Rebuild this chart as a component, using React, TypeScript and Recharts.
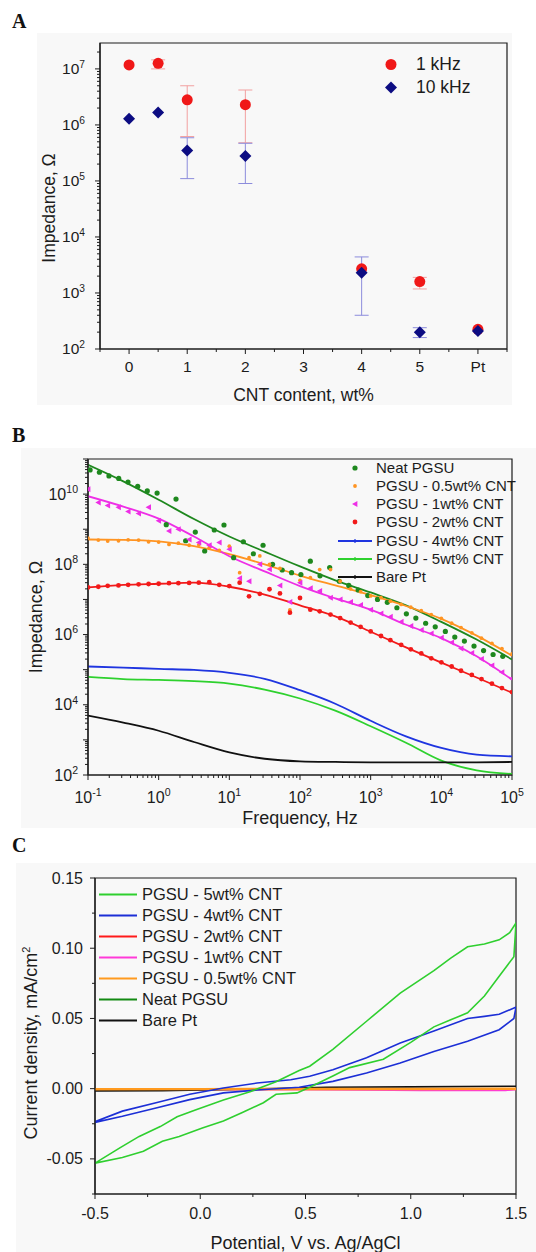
import React from "react";
import {
  ComposedChart,
  LineChart,
  XAxis,
  YAxis,
  Scatter,
  Line,
  ErrorBar,
  ReferenceArea,
  Legend,
} from "recharts";

const FONT = "'Liberation Sans', Arial, Helvetica, sans-serif";
const SERIF = "'Liberation Serif', 'Times New Roman', serif";
const INK = "#1c1c1c";
const BG = "#f8f8f8";

// ---------- A: impedance vs CNT content ----------
const cntX = [0, 0.5, 1, 2, 4, 5, 6];
const cntTicks = [-0.5, 0, 0.5, 1, 1.5, 2, 2.5, 3, 3.5, 4, 4.5, 5, 5.5, 6, 6.5];
const cntTickLabels = ["0", "1", "2", "3", "4", "5", "Pt"];
const imp1kHz = [1.18e7, 1.26e7, 2.8e6, 2.3e6, 2.7e3, 1.6e3, 2.25e2];
const imp1kHzLo = [1.18e7, 1.0e7, 6.2e5, 4.8e5, 2.7e3, 1.18e3, 2.25e2];
const imp1kHzHi = [1.18e7, 1.45e7, 5.0e6, 4.2e6, 2.7e3, 1.9e3, 2.25e2];
const imp10kHz = [1.29e6, 1.66e6, 3.5e5, 2.8e5, 2.3e3, 2.0e2, 2.1e2];
const imp10kHzLo = [1.29e6, 1.66e6, 1.1e5, 9.0e4, 4.0e2, 1.6e2, 2.1e2];
const imp10kHzHi = [1.29e6, 1.66e6, 5.9e5, 4.7e5, 4.4e3, 2.4e2, 2.1e2];

// ---------- B: Bode plots ----------
const fitFreqs = [0.1, 0.316, 1, 3.16, 10, 31.6, 100, 316, 1000, 3160, 10000, 31600, 100000];
const neatFit = [6.8e10, 2.3e10, 6.9e9, 1.95e9, 6.2e8, 2.3e8, 8.7e7, 3.5e7, 1.58e7, 6.8e6, 2.3e6, 7.2e5, 1.95e5];
const cnt05Fit = [5.1e8, 5.0e8, 4.5e8, 3.3e8, 1.95e8, 1.0e8, 4.8e7, 2.5e7, 1.32e7, 6.5e6, 2.8e6, 9.3e5, 2.5e5];
const cnt1Fit = [8.7e9, 4.4e9, 2.0e9, 6.2e8, 1.7e8, 6.3e7, 2.4e7, 1.07e7, 5.1e6, 1.9e6, 7.9e5, 2.4e5, 5.2e4];
const cnt2Fit = [2.2e7, 2.6e7, 2.8e7, 3.0e7, 2.3e7, 1.38e7, 6.8e6, 3.3e6, 1.2e6, 4.3e5, 1.58e5, 6.0e4, 2.2e4];
const cnt4Z = [1.23e5, 1.15e5, 1.05e5, 9.8e4, 8.1e4, 5.5e4, 2.6e4, 1.07e4, 3.5e3, 1.26e3, 590, 380, 340];
const cnt5Z = [6.2e4, 5.4e4, 5.1e4, 4.7e4, 4.0e4, 2.7e4, 1.51e4, 6.8e3, 2.45e3, 830, 257, 135, 107];
const bareZ = [4.9e3, 3.1e3, 1.82e3, 870, 440, 290, 245, 235, 230, 230, 230, 230, 235];

const neatFreqs = [
  0.107, 0.145, 0.198, 0.272, 0.368, 0.505, 0.69, 0.95, 1.28, 1.76, 2.41, 3.3, 4.48, 6.12, 8.4,
  11.5, 15.8, 21.9, 30, 40.9, 56, 76, 103, 140, 192, 263, 360, 490, 665, 910, 1250, 1720, 2350,
  3200, 4360, 6000, 8200, 11400, 15500, 21200, 29000, 39600, 54000, 74000,
];
const neatZ = [
  4.9e10, 4.2e10, 3.3e10, 2.8e10, 2.2e10, 1.66e10, 1.23e10, 1.07e10, 1.35e9, 7.2e9, 4.7e8, 8.3e8,
  2.4e8, 9.5e8, 1.32e9, 1.55e8, 4.4e8, 2.0e8, 3.5e8, 1.0e8, 6.9e7, 5.8e7, 5.1e7, 1.23e8, 4.7e7,
  8.1e7, 3.3e7, 2.5e7, 1.86e7, 1.29e7, 1.0e7, 8.3e6, 5.8e6, 3.9e6, 2.95e6, 2.1e6, 1.66e6, 1.23e6,
  8.5e5, 6.5e5, 4.7e5, 3.5e5, 2.7e5, 2.4e5,
];
const scanFreqs = [
  0.1, 0.14, 0.19, 0.27, 0.37, 0.52, 0.72, 1, 1.4, 1.9, 2.7, 3.7, 5.2, 7.2, 10, 14, 19, 27, 37, 52,
  72, 100, 140, 190, 270, 370, 520, 720, 1000, 1400, 1900, 2700, 3700, 5200, 7200, 10000, 14000,
  19000, 27000, 37000, 52000, 72000, 100000,
];
const cnt05Z = [
  5.6e8, 4.9e8, 4.6e8, 4.7e8, 5.0e8, 4.9e8, 4.4e8, 4.3e8, 3.7e8, 4.0e8, 3.5e8, 3.6e8, 3.0e8, 2.5e8,
  3.3e8, 5.8e7, 1.55e8, 1.74e8, 1.0e8, 7.6e7, 5.0e6, 3.5e7, 4.2e7, 7.1e7, 7.1e7, 3.3e7, 2.0e7,
  1.66e7, 1.26e7, 1.12e7, 8.9e6, 7.2e6, 6.0e6, 4.8e6, 3.7e6, 2.9e6, 2.1e6, 1.58e6, 1.12e6, 7.9e5,
  5.6e5, 4.0e5, 2.8e5,
];
const cnt1Z = [
  1.38e10, 5.8e9, 4.7e9, 4.2e9, 3.2e9, 2.8e9, 4.2e9, 1.74e9, 8.9e8, 1.0e9, 5.1e8, 4.2e8, 3.5e8,
  4.2e8, 2.7e8, 4.0e7, 3.3e7, 1.0e8, 7.2e7, 2.5e7, 8.5e6, 3.0e7, 2.1e7, 1.74e7, 1.12e7, 1.0e7,
  8.5e6, 6.9e6, 5.1e6, 4.0e6, 3.2e6, 2.3e6, 1.74e6, 1.35e6, 1.07e6, 8.1e5, 5.9e5, 4.0e5, 3.0e5,
  2.0e5, 1.32e5, 8.5e4, 5.6e4,
];
const cnt2Z = [
  2.2e7, 2.3e7, 2.45e7, 2.5e7, 2.6e7, 2.7e7, 2.75e7, 2.8e7, 2.9e7, 2.9e7, 2.95e7, 3.0e7, 3.1e7,
  2.6e7, 2.4e7, 3.0e7, 1.23e7, 1.45e7, 1.95e7, 1.48e7, 4.2e6, 1.1e7, 5.1e6, 4.6e6, 3.7e6, 2.95e6,
  2.2e6, 1.66e6, 1.23e6, 9.1e5, 6.9e5, 5.1e5, 3.8e5, 2.9e5, 2.1e5, 1.62e5, 1.23e5, 9.3e4, 7.1e4,
  5.4e4, 4.0e4, 3.0e4, 2.3e4,
];

// ---------- C: cyclic voltammetry ----------
const cv5V = [
  -0.5, -0.38, -0.29, -0.19, -0.11, -0.02, 0.11, 0.24, 0.36, 0.47, 0.52, 0.63, 0.79, 0.95, 1.11,
  1.19, 1.27, 1.35, 1.42, 1.47, 1.5, 1.49, 1.42, 1.35, 1.27, 1.19, 1.11, 1.0, 0.87, 0.71, 0.63,
  0.52, 0.46, 0.36, 0.3, 0.2, 0.11, 0.01, -0.1, -0.18, -0.27, -0.37, -0.5,
];
const cv5I = [
  -0.053, -0.042, -0.034, -0.027, -0.02, -0.015, -0.008, -0.002, 0.005, 0.013, 0.016, 0.028, 0.048,
  0.068, 0.084, 0.093, 0.101, 0.103, 0.106, 0.111, 0.118, 0.094, 0.08, 0.066, 0.054, 0.049, 0.044,
  0.033, 0.021, 0.015, 0.009, 0.001, -0.003, -0.004, -0.01, -0.017, -0.023, -0.028, -0.034,
  -0.0375, -0.0446, -0.049, -0.053,
];
const cv4V = [
  -0.5, -0.37, -0.21, -0.05, 0.11, 0.27, 0.43, 0.52, 0.63, 0.79, 0.95, 1.11, 1.27, 1.35, 1.42, 1.5,
  1.49, 1.42, 1.27, 1.11, 0.95, 0.79, 0.63, 0.47, 0.27, 0.11, -0.05, -0.21, -0.37, -0.5,
];
const cv4I = [
  -0.0235, -0.016, -0.01, -0.004, 0.0005, 0.004, 0.0064, 0.0088, 0.0135, 0.022, 0.0325, 0.041,
  0.05, 0.0515, 0.053, 0.058, 0.05, 0.042, 0.0337, 0.0265, 0.0182, 0.0111, 0.0052, 0.001, -0.001,
  -0.003, -0.0078, -0.0137, -0.0197, -0.024,
];
const cv2V = [-0.5, 0.5, 1.5];
const cv2I = [-0.0006, -0.0005, -0.0005];
const cv1V = [-0.5, 0.5, 1.05, 1.45, 1.5];
const cv1I = [-0.0005, -0.0006, -0.0012, -0.0012, -0.0006];
const cv05V = [-0.5, 0, 0.5, 1.0, 1.5];
const cv05I = [-0.0004, -0.0003, -0.0002, -0.0002, -0.0001];
const cvNeatV = [-0.5, 0.5, 1.5];
const cvNeatI = [-0.0003, -0.0003, -0.0002];
const cvPtV = [-0.5, -0.18, 0.2, 0.6, 1.0, 1.5];
const cvPtI = [-0.0016, -0.0015, -0.0004, 0.001, 0.0013, 0.0017];

// ---------- helpers ----------
function logTicks(fromExp: number, toExp: number, max: number) {
  const out: number[] = [];
  for (let e = fromExp; e <= toExp; e++) {
    for (let m = 1; m <= 9; m++) {
      const v = m * Math.pow(10, e);
      if (v <= max * 1.0001) out.push(v);
    }
  }
  return out;
}
const isDecade = (v: number) => Math.abs(Math.log10(v) - Math.round(Math.log10(v))) < 1e-6;
const expOf = (v: number) => Math.round(Math.log10(v));

const pow10 = (e: number, size: number) => (
  <>
    10
    <tspan dy={-size * 0.42} fontSize={size * 0.66}>
      {e}
    </tspan>
  </>
);

type TickCfg = {
  side: "left" | "bottom";
  isMajor: (v: number) => boolean;
  label: (v: number) => React.ReactNode | null;
  majorLen: number;
  minorLen: number;
  gap: number;
  size: number;
};
const makeTick = (c: TickCfg) => (p: any) => {
  const { x, y, payload } = p;
  const v = payload.value as number;
  const major = c.isMajor(v);
  const len = major ? c.majorLen : c.minorLen;
  const lab = major ? c.label(v) : null;
  if (c.side === "left") {
    return (
      <g>
        <line x1={x} y1={y} x2={x - len} y2={y} stroke={INK} strokeWidth={1} />
        {lab != null && (
          <text x={x - c.gap} y={y + c.size * 0.35} textAnchor="end" fontSize={c.size} fontFamily={FONT} fill={INK}>
            {lab}
          </text>
        )}
      </g>
    );
  }
  return (
    <g>
      <line x1={x} y1={y} x2={x} y2={y + len} stroke={INK} strokeWidth={1} />
      {lab != null && (
        <text x={x} y={y + c.gap + c.size * 0.35} textAnchor="middle" fontSize={c.size} fontFamily={FONT} fill={INK}>
          {lab}
        </text>
      )}
    </g>
  );
};

const vTitle = (x: number, y: number, size: number, body: React.ReactNode) => () => (
  <text x={x} y={y} transform={`rotate(-90 ${x} ${y})`} textAnchor="middle" dy={size * 0.35} fontSize={size} fontFamily={FONT} fill={INK}>
    {body}
  </text>
);
const hTitle = (x: number, y: number, size: number, body: React.ReactNode) => () => (
  <text x={x} y={y} textAnchor="middle" dy={size * 0.35} fontSize={size} fontFamily={FONT} fill={INK}>
    {body}
  </text>
);

const legendRow = (key: string, sym: React.ReactNode, label: string, h: number, swW: number, gap: number) => (
  <div key={key} style={{ display: "flex", alignItems: "center", height: h }}>
    <svg width={swW} height={h} style={{ display: "block", flex: "none" }}>
      {sym}
    </svg>
    <span style={{ marginLeft: gap, whiteSpace: "nowrap", lineHeight: `${h}px` }}>{label}</span>
  </div>
);

const axisLine = { stroke: INK, strokeWidth: 1.2 };

// ---------- panel A ----------
const RED = "#f01818";
const NAVY = "#0c0c82";
const dotShape = (r: number, fill: string) => (p: any) => <circle cx={p.cx} cy={p.cy} r={r} fill={fill} />;
const diamondShape = (s: number, fill: string) => (p: any) => (
  <path d={`M${p.cx},${p.cy - s}L${p.cx + s},${p.cy}L${p.cx},${p.cy + s}L${p.cx - s},${p.cy}Z`} fill={fill} />
);
const leftTriShape = (s: number, fill: string) => (p: any) => (
  <path d={`M${p.cx - s},${p.cy}L${p.cx + s * 0.8},${p.cy - s}L${p.cx + s * 0.8},${p.cy + s}Z`} fill={fill} />
);

// error as [below, above]; points measured without a visible bar get none
const errOf = (v: number, lo: number, hi: number) => (lo === v && hi === v ? null : [v - lo, hi - v]);

function PanelA() {
  const red = cntX.map((x, i) => ({ x, z: imp1kHz[i], err: errOf(imp1kHz[i], imp1kHzLo[i], imp1kHzHi[i]) }));
  const blue = cntX.map((x, i) => ({ x, z: imp10kHz[i], err: errOf(imp10kHz[i], imp10kHzLo[i], imp10kHzHi[i]) }));
  const yTicks = logTicks(2, 7, 2.9e7);
  return (
    <ComposedChart width={475} height={372} margin={{ top: 10, right: 5, bottom: 0, left: 0 }}>
      <XAxis
        type="number"
        dataKey="x"
        domain={[-0.5, 6.5]}
        allowDataOverflow
        ticks={cntTicks}
        interval={0}
        tickSize={0}
        tickMargin={0}
        tickLine={false}
        axisLine={axisLine}
        height={56}
        tick={makeTick({
          side: "bottom",
          isMajor: (v) => Number.isInteger(v),
          label: (v) => cntTickLabels[v],
          majorLen: 5,
          minorLen: 3,
          gap: 18,
          size: 15.5,
        })}
        label={hTitle(266.5, 362, 17.5, "CNT content, wt%")}
      />
      <YAxis
        type="number"
        dataKey="z"
        scale="log"
        domain={[100, 2.9e7]}
        allowDataOverflow
        ticks={yTicks}
        interval={0}
        tickSize={0}
        tickMargin={0}
        tickLine={false}
        axisLine={axisLine}
        width={63}
        tick={makeTick({
          side: "left",
          isMajor: isDecade,
          label: (v) => pow10(expOf(v), 15.5),
          majorLen: 5,
          minorLen: 3,
          gap: 15,
          size: 15.5,
        })}
        label={vTitle(12, 175, 17.5, "Impedance, Ω")}
      />
      <ReferenceArea x1={-0.5} x2={6.5} y1={100} y2={2.9e7} fill="none" stroke={INK} strokeWidth={1.2} />
      <Scatter data={red} shape={dotShape(5.5, RED)} isAnimationActive={false}>
        <ErrorBar dataKey="err" direction="y" width={7} stroke="#f2a0a0" strokeWidth={1} />
      </Scatter>
      <Scatter data={blue} shape={diamondShape(6, NAVY)} isAnimationActive={false}>
        <ErrorBar dataKey="err" direction="y" width={7} stroke="#8c8cdc" strokeWidth={1} />
      </Scatter>
      <Legend
        layout="vertical"
        align="center"
        verticalAlign="middle"
        wrapperStyle={{ left: 343, top: 20, width: "auto" }}
        content={() => (
          <div style={{ fontFamily: FONT, fontSize: 17.5, color: INK }}>
            {legendRow("a1", <circle cx={11} cy={11.5} r={5.5} fill={RED} />, "1 kHz", 23, 22, 14)}
            {legendRow("a2", <path d="M11,5.5L17,11.5L11,17.5L5,11.5Z" fill={NAVY} />, "10 kHz", 23, 22, 14)}
          </div>
        )}
      />
    </ComposedChart>
  );
}

// ---------- panel B ----------
const C_NEAT = "#1e881e";
const C_05 = "#ff9422";
const C_1 = "#ee2fe6";
const C_2 = "#f21a1a";
const C_4 = "#1f35e0";
const C_5 = "#2ed12e";
const C_PT = "#111111";

function PanelB() {
  const pts = (fs: number[], zs: number[]) => fs.map((f, i) => ({ f, z: zs[i] }));
  const xTicks = logTicks(-1, 5, 1e5);
  const yTicks = logTicks(2, 11, 1e11);
  const fits = [
    { key: "neatFit", z: neatFit, color: C_NEAT },
    { key: "c05Fit", z: cnt05Fit, color: C_05 },
    { key: "c1Fit", z: cnt1Fit, color: C_1 },
    { key: "c2Fit", z: cnt2Fit, color: C_2 },
    { key: "c4", z: cnt4Z, color: C_4 },
    { key: "c5", z: cnt5Z, color: C_5 },
    { key: "pt", z: bareZ, color: C_PT },
  ];
  const lineSw = (c: string) => (
    <g>
      <line x1={0} y1={9} x2={34} y2={9} stroke={c} strokeWidth={2} />
      <line x1={17} y1={7} x2={17} y2={11} stroke={c} strokeWidth={1.2} />
    </g>
  );
  return (
    <ComposedChart width={515} height={380} margin={{ top: 11, right: 24, bottom: 0, left: 0 }}>
      <XAxis
        type="number"
        dataKey="f"
        scale="log"
        domain={[0.1, 1e5]}
        allowDataOverflow
        ticks={xTicks}
        interval={0}
        tickSize={0}
        tickMargin={0}
        tickLine={false}
        axisLine={axisLine}
        height={53}
        tick={makeTick({
          side: "bottom",
          isMajor: isDecade,
          label: (v) => pow10(expOf(v), 16),
          majorLen: 5,
          minorLen: 3,
          gap: 22,
          size: 16,
        })}
        label={hTitle(279, 369.5, 18, "Frequency, Hz")}
      />
      <YAxis
        type="number"
        dataKey="z"
        scale="log"
        domain={[100, 1e11]}
        allowDataOverflow
        ticks={yTicks}
        interval={0}
        tickSize={0}
        tickMargin={0}
        tickLine={false}
        axisLine={axisLine}
        width={67}
        tick={makeTick({
          side: "left",
          isMajor: isDecade,
          label: (v) => (expOf(v) % 2 === 0 ? pow10(expOf(v), 16) : null),
          majorLen: 5,
          minorLen: 3,
          gap: 10,
          size: 16,
        })}
        label={vTitle(15, 169, 18, "Impedance, Ω")}
      />
      <ReferenceArea x1={0.1} x2={1e5} y1={100} y2={1e11} fill="none" stroke={INK} strokeWidth={1.2} />
      {fits.map((s) => (
        <Line
          key={s.key}
          data={pts(fitFreqs, s.z)}
          dataKey="z"
          type="monotone"
          stroke={s.color}
          strokeWidth={1.8}
          dot={false}
          isAnimationActive={false}
        />
      ))}
      <Scatter data={pts(neatFreqs, neatZ)} shape={dotShape(2.6, C_NEAT)} isAnimationActive={false} />
      <Scatter data={pts(scanFreqs, cnt05Z)} shape={dotShape(1.9, C_05)} isAnimationActive={false} />
      <Scatter data={pts(scanFreqs, cnt1Z)} shape={leftTriShape(3, C_1)} isAnimationActive={false} />
      <Scatter data={pts(scanFreqs, cnt2Z)} shape={dotShape(2.4, C_2)} isAnimationActive={false} />
      <Legend
        layout="vertical"
        align="center"
        verticalAlign="middle"
        wrapperStyle={{ left: 317, top: 10.5, width: "auto" }}
        content={() => (
          <div style={{ fontFamily: FONT, fontSize: 15, color: INK }}>
            {legendRow("b1", <circle cx={17} cy={9} r={2.6} fill={C_NEAT} />, "Neat PGSU", 18.33, 34, 4)}
            {legendRow("b2", <circle cx={17} cy={9} r={1.9} fill={C_05} />, "PGSU - 0.5wt% CNT", 18.33, 34, 4)}
            {legendRow("b3", <path d="M14,9L19.4,6L19.4,12Z" fill={C_1} />, "PGSU - 1wt% CNT", 18.33, 34, 4)}
            {legendRow("b4", <circle cx={17} cy={9} r={2.4} fill={C_2} />, "PGSU - 2wt% CNT", 18.33, 34, 4)}
            {legendRow("b5", lineSw(C_4), "PGSU - 4wt% CNT", 18.33, 34, 4)}
            {legendRow("b6", lineSw(C_5), "PGSU - 5wt% CNT", 18.33, 34, 4)}
            {legendRow("b7", lineSw(C_PT), "Bare Pt", 18.33, 34, 4)}
          </div>
        )}
      />
    </ComposedChart>
  );
}

// ---------- panel C ----------
const K_5 = "#2fcf2f";
const K_4 = "#1c2fd6";
const K_2 = "#ff1a1a";
const K_1 = "#ff3ad8";
const K_05 = "#ff9a1f";
const K_NEAT = "#138a13";
const K_PT = "#111111";

function PanelC() {
  const pts = (vs: number[], is: number[]) => vs.map((v, k) => ({ v, i: is[k] }));
  const yTicks = [-0.075, -0.05, -0.025, 0, 0.025, 0.05, 0.075, 0.1, 0.125, 0.15];
  const xTicks = [-0.5, -0.25, 0, 0.25, 0.5, 0.75, 1, 1.25, 1.5];
  const series = [
    { key: "neat", v: cvNeatV, i: cvNeatI, color: K_NEAT, w: 1.6 },
    { key: "c2", v: cv2V, i: cv2I, color: K_2, w: 1.6 },
    { key: "c1", v: cv1V, i: cv1I, color: K_1, w: 1.6 },
    { key: "pt", v: cvPtV, i: cvPtI, color: K_PT, w: 1.6 },
    { key: "c05", v: cv05V, i: cv05I, color: K_05, w: 2.4 },
    { key: "c4", v: cv4V, i: cv4I, color: K_4, w: 1.6 },
    { key: "c5", v: cv5V, i: cv5I, color: K_5, w: 1.6 },
  ];
  const legend = [
    ["PGSU - 5wt% CNT", K_5],
    ["PGSU - 4wt% CNT", K_4],
    ["PGSU - 2wt% CNT", K_2],
    ["PGSU - 1wt% CNT", K_1],
    ["PGSU - 0.5wt% CNT", K_05],
    ["Neat PGSU", K_NEAT],
    ["Bare Pt", K_PT],
  ];
  return (
    <LineChart width={520} height={389} margin={{ top: 15, right: 20, bottom: 0, left: 0 }}>
      <XAxis
        type="number"
        dataKey="v"
        domain={[-0.5, 1.5]}
        allowDataOverflow
        ticks={xTicks}
        interval={0}
        tickSize={0}
        tickMargin={0}
        tickLine={false}
        axisLine={axisLine}
        height={58}
        tick={makeTick({
          side: "bottom",
          isMajor: (v) => Math.abs(v * 2 - Math.round(v * 2)) < 1e-6,
          label: (v) => v.toFixed(1),
          majorLen: 5,
          minorLen: 3,
          gap: 19,
          size: 16,
        })}
        label={hTitle(289.5, 380, 18, "Potential, V vs. Ag/AgCl")}
      />
      <YAxis
        type="number"
        domain={[-0.075, 0.15]}
        allowDataOverflow
        ticks={yTicks}
        interval={0}
        tickSize={0}
        tickMargin={0}
        tickLine={false}
        axisLine={axisLine}
        width={79}
        tick={makeTick({
          side: "left",
          isMajor: (v) => Math.abs(v * 20 - Math.round(v * 20)) < 1e-6,
          label: (v) => v.toFixed(2),
          majorLen: 5,
          minorLen: 3,
          gap: 12,
          size: 16,
        })}
        label={vTitle(
          15,
          180,
          18,
          <>
            Current density, mA/cm
            <tspan dy={-7} fontSize={11}>
              2
            </tspan>
          </>
        )}
      />
      <ReferenceArea x1={-0.5} x2={1.5} y1={-0.075} y2={0.15} fill="none" stroke={INK} strokeWidth={1.2} />
      {series.map((s) => (
        <Line
          key={s.key}
          data={pts(s.v, s.i)}
          dataKey="i"
          type="linear"
          stroke={s.color}
          strokeWidth={s.w}
          dot={false}
          isAnimationActive={false}
        />
      ))}
      <Legend
        layout="vertical"
        align="center"
        verticalAlign="middle"
        wrapperStyle={{ left: 83, top: 20.5, width: "auto" }}
        content={() => (
          <div style={{ fontFamily: FONT, fontSize: 16.5, color: INK }}>
            {legend.map(([name, c]) =>
              legendRow(name, <line x1={0} y1={10.5} x2={38} y2={10.5} stroke={c} strokeWidth={2} />, name, 21.05, 38, 5)
            )}
          </div>
        )}
      />
    </LineChart>
  );
}

function PanelLetter({ text, left, baseline }: { text: string; left: number; baseline: number }) {
  return (
    <div
      style={{
        position: "absolute",
        left,
        top: baseline - 16.7,
        fontFamily: SERIF,
        fontWeight: "bold",
        fontSize: 20,
        lineHeight: "20px",
        color: "#111",
      }}
    >
      {text}
    </div>
  );
}

export default function App() {
  return (
    <div style={{ position: "relative", width: 536, height: 1252, background: "#fff", overflow: "hidden" }}>
      <style>{"body{margin:0}"}</style>
      <PanelLetter text="A" left={12} baseline={28} />
      <div style={{ position: "absolute", left: 37, top: 33, width: 475, height: 372, background: BG }}>
        <PanelA />
      </div>
      <PanelLetter text="B" left={12} baseline={442} />
      <div style={{ position: "absolute", left: 21, top: 448, width: 515, height: 380, background: BG }}>
        <PanelB />
      </div>
      <PanelLetter text="C" left={12} baseline={852} />
      <div style={{ position: "absolute", left: 16, top: 863, width: 520, height: 389, background: BG }}>
        <PanelC />
      </div>
    </div>
  );
}
